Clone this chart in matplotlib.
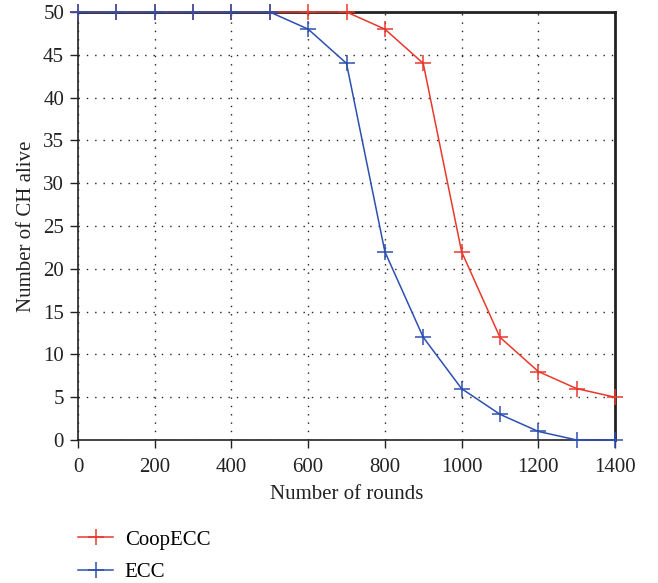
import matplotlib
matplotlib.use("Agg")
import matplotlib.pyplot as plt

rounds = [0, 100, 200, 300, 400, 500, 600, 700, 800, 900, 1000, 1100, 1200, 1300, 1400]
coop_ecc = [50, 50, 50, 50, 50, 50, 50, 50, 48, 44, 22, 12, 8, 6, 5]
ecc = [50, 50, 50, 50, 50, 50, 48, 44, 22, 12, 6, 3, 1, 0, 0]

x_ticks = [0, 200, 400, 600, 800, 1000, 1200, 1400]
y_ticks = [0, 5, 10, 15, 20, 25, 30, 35, 40, 45, 50]

RED = "#e8392c"
BLUE = "#2d4fb0"
INK = "#222222"

plt.rcParams["font.family"] = ["Liberation Serif", "DejaVu Serif"]

fig = plt.figure(figsize=(6.58, 5.83), dpi=100)
ax = fig.add_axes([0.1185, 0.2453, 0.8162, 0.7341])

ax.plot(rounds, coop_ecc, color=RED, marker="+", markersize=11,
        markeredgewidth=1.1, linewidth=1.1, label="CoopECC", clip_on=False, zorder=3)
ax.plot(rounds, ecc, color=BLUE, marker="+", markersize=11,
        markeredgewidth=1.1, linewidth=1.1, label="ECC", clip_on=False, zorder=4)

ax.set_xlim(0, 1400)
ax.set_ylim(0, 50)
ax.set_xticks(x_ticks)
ax.set_yticks(y_ticks)
ax.tick_params(labelsize=15, direction="out", length=6, width=1.0, colors=INK)
ax.tick_params(axis="x", pad=7)
ax.tick_params(axis="y", pad=4)
ax.grid(True, color=INK, linestyle=(0, (1, 5)), linewidth=1.0)
ax.set_axisbelow(True)

for side in ("left", "bottom"):
    ax.spines[side].set_linewidth(1.2)
    ax.spines[side].set_color(INK)
for side in ("top", "right"):
    ax.spines[side].set_linewidth(2.0)
    ax.spines[side].set_color(INK)

ax.set_xlabel("Number of rounds", fontsize=15, labelpad=6, color=INK)
ax.set_ylabel("Number of CH alive", fontsize=15, labelpad=5, color=INK)

fig.legend(loc="upper left", bbox_to_anchor=(0.1185, 0.091), frameon=False,
           fontsize=15, handlelength=1.7, labelspacing=0.62, handletextpad=0.55,
           borderpad=0, borderaxespad=0)

fig.savefig("out.png", dpi=100)
